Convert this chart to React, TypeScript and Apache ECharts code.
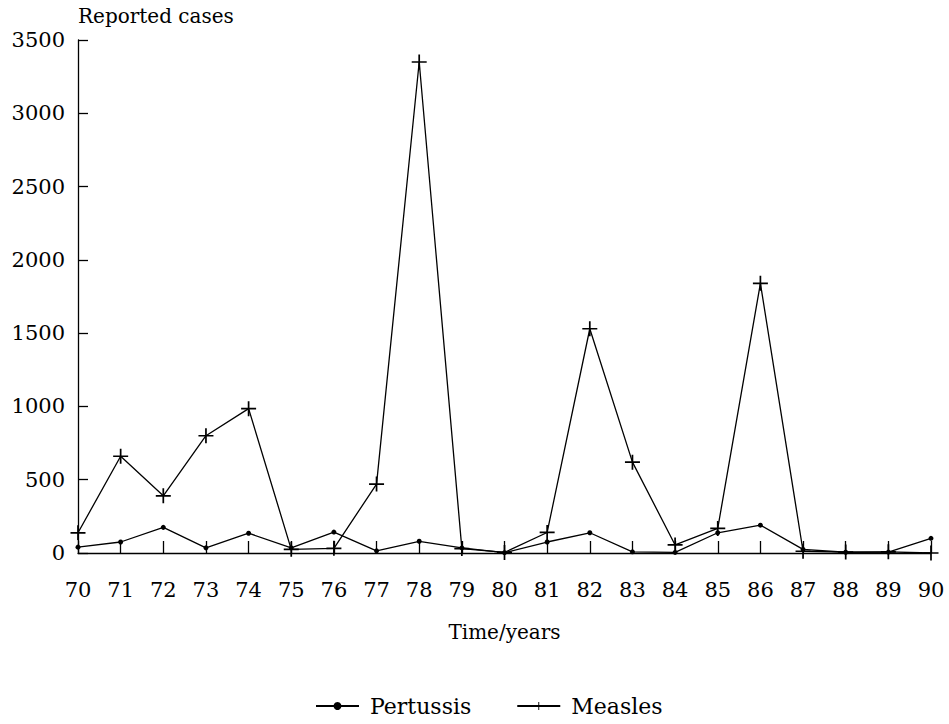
import React, { useEffect, useRef } from "react";
import * as echarts from "echarts";

const years = ["70", "71", "72", "73", "74", "75", "76", "77", "78", "79", "80", "81", "82", "83", "84", "85", "86", "87", "88", "89", "90"];
const pertussis = [40, 75, 175, 35, 135, 35, 143, 15, 80, 35, 2, 75, 138, 8, 4, 138, 190, 25, 5, 6, 100];
const measles = [138, 660, 390, 800, 985, 25, 32, 470, 3350, 30, 4, 140, 1530, 620, 55, 168, 1840, 12, 6, 8, 0];
const yTicks = { min: 0, max: 3500, interval: 500 };

const FONT = "DejaVu Serif";
const crossPath = "path://M6.2,0h1.6v14h-1.6z M0,6.2h14v1.6h-14z";

export default function App() {
  const ref = useRef<HTMLDivElement>(null);
  useEffect(() => {
    document.body.style.margin = "0";
    const chart = echarts.init(ref.current!, null, { renderer: "svg" });
    chart.setOption({
      animation: false,
      backgroundColor: "#fff",
      grid: { left: 78, right: 18, top: 40, bottom: 171, containLabel: false },
      legend: {
        left: 310,
        top: 690,
        itemWidth: 43,
        itemHeight: 10,
        itemGap: 45,
        textStyle: { fontFamily: FONT, fontSize: 22, color: "#000", padding: [0, 0, 0, 6] },
        data: ["Pertussis", "Measles"],
      },
      xAxis: {
        type: "category",
        data: years,
        boundaryGap: false,
        name: "Time/years",
        nameLocation: "middle",
        nameGap: 69,
        nameTextStyle: { fontFamily: FONT, fontSize: 20, color: "#000" },
        axisLine: { show: true, lineStyle: { color: "#000", width: 1.3 } },
        axisTick: { show: true, inside: true, length: 12, lineStyle: { color: "#000", width: 1.3 } },
        axisLabel: { fontFamily: FONT, fontSize: 21, color: "#000", margin: 26 },
        splitLine: { show: false },
      },
      yAxis: {
        type: "value",
        min: yTicks.min,
        max: yTicks.max,
        interval: yTicks.interval,
        name: "Reported cases",
        nameLocation: "end",
        nameGap: 24,
        nameTextStyle: { fontFamily: FONT, fontSize: 20, color: "#000", align: "left", verticalAlign: "middle" },
        axisLine: { show: true, lineStyle: { color: "#000", width: 1.3 } },
        axisTick: { show: true, inside: true, length: 10, lineStyle: { color: "#000", width: 1.3 } },
        axisLabel: { fontFamily: FONT, fontSize: 21, color: "#000", margin: 13, formatter: (v: number) => String(v) },
        splitLine: { show: false },
      },
      series: [
        {
          name: "Pertussis",
          type: "line",
          data: pertussis,
          symbol: "circle",
          symbolSize: 5,
          showAllSymbol: true,
          itemStyle: { color: "#000" },
          lineStyle: { color: "#000", width: 1.3 },
        },
        {
          name: "Measles",
          type: "line",
          data: measles,
          symbol: crossPath,
          symbolSize: 15,
          showAllSymbol: true,
          itemStyle: { color: "#000" },
          lineStyle: { color: "#000", width: 1.3 },
        },
      ],
    });
    return () => chart.dispose();
  }, []);
  return <div ref={ref} style={{ position: "fixed", left: 0, top: 0, width: 949, height: 724 }} />;
}
